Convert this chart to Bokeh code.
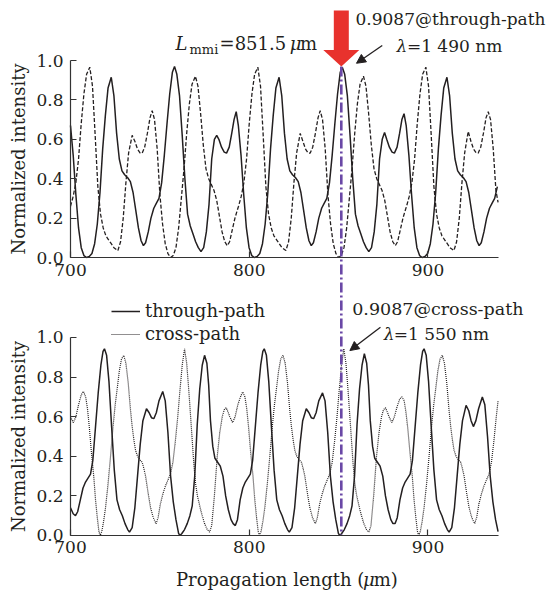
import math
from bokeh.plotting import figure
from bokeh.models import (Range1d, LinearAxis, FixedTicker, PrintfTickFormatter, Arrow,
                          NormalHead, Legend, LegendItem)
from bokeh.core.properties import value
from bokeh.embed import file_html
from bokeh.resources import INLINE

FONT = "DejaVu Serif"
INK = "#231f20"
RED = "#e8322d"
PURPLE = "#6a48a6"

X_TICKS = [700, 800, 900]
Y_TICKS = [0.0, 0.2, 0.4, 0.6, 0.8, 1.0]
X_MIN, X_MAX = 700, 939.3
L_MMI = 851.5
PEAK_TOP = 0.97

# ---------------- top panel (lambda = 1490 nm) ----------------
TOP_THROUGH_X = [
    700, 701.5, 703, 704.5, 706, 707.5, 709, 710.5, 712, 713.5, 715, 716.5, 718, 719.5, 721, 722.8,
    724.3, 725.8, 727.3, 728.8, 730.3, 732, 733.5, 735, 736.5, 738, 739.5, 740.8, 742, 743.5, 745,
    746.6, 748, 749.5, 751, 752.5, 754, 755.5, 757, 758.2, 759.5, 761, 762.5, 764, 765.5, 767, 768.5,
    770, 771.5, 773, 774.5, 776, 777.5, 779, 780.5, 781.8, 783, 784.5, 786, 787.3, 788.8, 790.2,
    791.5, 792.7,
    793.9, 795.4, 796.9, 798.4, 799.9, 801.4, 802.9, 804.4, 805.9, 807.4, 808.9, 810.4, 811.9, 813.4,
    814.9, 816.7, 818.2, 819.7, 821.2, 822.7, 824.2, 825.9, 827.4, 828.9, 830.4, 831.9, 833.4, 834.7,
    835.9, 837.4, 838.9, 840.5, 841.9, 843.4, 844.9, 846.4, 847.9, 849.4, 850.9, 852.1, 853.4, 854.9,
    856.4, 857.9, 859.4, 860.9, 862.4, 863.9, 865.4, 866.9, 868.4, 869.9, 871.4, 872.9, 874.4, 875.7,
    876.9, 878.4, 879.9, 881.2, 882.7, 884.1, 885.4, 886.6,
    887.8, 889.3, 890.8, 892.3, 893.8, 895.3, 896.8, 898.3, 899.8, 901.3, 902.8, 904.3, 905.8, 907.3,
    908.8, 910.6, 912.1, 913.6, 915.1, 916.6, 918.1, 919.8, 921.3, 922.8, 924.3, 925.8, 927.3, 928.6,
    929.8, 931.3, 932.8, 934.4, 935.8, 937.3, 938.8]
TOP_THROUGH_Y = [
    0.67, 0.52, 0.32, 0.15, 0.05, 0.01, 0.0, 0.005, 0.02, 0.07, 0.17, 0.33, 0.55, 0.72, 0.86, 0.915,
    0.82, 0.63, 0.5, 0.44, 0.42, 0.405, 0.385, 0.33, 0.24, 0.15, 0.085, 0.06, 0.075, 0.13, 0.2,
    0.25, 0.275, 0.3, 0.38, 0.52, 0.68, 0.83, 0.94, 0.97, 0.93, 0.82, 0.62, 0.4, 0.22, 0.16, 0.12,
    0.08, 0.05, 0.03, 0.05, 0.13, 0.27, 0.5, 0.6, 0.62, 0.6, 0.56, 0.535, 0.53, 0.56, 0.63,
    0.7, 0.74,
    0.67, 0.52, 0.32, 0.15, 0.05, 0.01, 0.0, 0.005, 0.02, 0.07, 0.17, 0.33, 0.55, 0.72,
    0.86, 0.915, 0.82, 0.63, 0.5, 0.44, 0.42, 0.405, 0.385, 0.33, 0.24, 0.15, 0.085, 0.06,
    0.075, 0.13, 0.2, 0.25, 0.275, 0.3, 0.38, 0.52, 0.68, 0.83, 0.94, 0.965, 0.93, 0.82,
    0.62, 0.4, 0.22, 0.16, 0.12, 0.08, 0.05, 0.03, 0.05, 0.13, 0.27, 0.5, 0.6, 0.635,
    0.6, 0.56, 0.535, 0.53, 0.56, 0.63, 0.7, 0.73,
    0.67, 0.52, 0.32, 0.15, 0.05, 0.01, 0.0, 0.005, 0.02, 0.07, 0.17, 0.33, 0.55, 0.72,
    0.86, 0.915, 0.82, 0.63, 0.5, 0.44, 0.42, 0.405, 0.385, 0.33, 0.24, 0.15, 0.085, 0.06,
    0.075, 0.13, 0.2, 0.25, 0.275, 0.3, 0.36]

TOP_CROSS_X = [
    700, 701.5, 703, 704.5, 706, 707.5, 709, 710.8, 712.3, 713.8, 715.3, 716.8, 718.3, 719.8, 721.3,
    722.8, 724.3, 726.5, 728, 729.5, 731, 732.5, 734.5, 736, 737.5, 739, 740.1, 741.5, 743, 744.5,
    745.7, 747, 748.5, 750, 751.5, 753, 754.5, 756, 757.5, 759, 760.5, 762, 763.5, 765, 766.5, 768,
    769.9, 771.3, 772.8, 774.3, 775.8, 777.3, 778.8, 780.3, 781.8, 783.3, 784.8, 786.3, 787.7, 789,
    790.5, 792, 793.3,
    794, 795.5, 797, 798.5, 800, 801.5, 803, 804.8, 806.3, 807.8, 809.3, 810.8, 812.3, 813.8, 815.3,
    816.8, 818.3, 820.5, 822, 823.5, 825, 826.5, 828.5, 830, 831.5, 833, 834.1, 835.5, 837, 838.5,
    839.7, 841, 842.5, 844, 845.5, 847, 848.5, 850, 851.5, 853, 854.5, 856, 857.5, 859, 860.5, 862,
    863.9, 865.3, 866.8, 868.3, 869.8, 871.3, 872.8, 874.3, 875.8, 877.3, 878.8, 880.3, 881.7, 883,
    884.5, 886, 887.3,
    888, 889.5, 891, 892.5, 894, 895.5, 897, 898.8, 900.3, 901.8, 903.3, 904.8, 906.3, 907.8, 909.3,
    910.8, 912.3, 914.5, 916, 917.5, 919, 920.5, 922.5, 924, 925.5, 927, 928.1, 929.5, 931, 932.5,
    933.7, 935, 936.5, 938, 939.2]
TOP_CROSS_Y = [
    0.26, 0.31, 0.38, 0.5, 0.68, 0.83, 0.93, 0.966, 0.87, 0.62, 0.36, 0.22, 0.15, 0.11, 0.09,
    0.07, 0.05, 0.035, 0.08, 0.2, 0.38, 0.53, 0.62, 0.59, 0.55, 0.53, 0.53, 0.56, 0.63, 0.71,
    0.745, 0.7, 0.55, 0.32, 0.17, 0.07, 0.02, 0.0, 0.01, 0.05, 0.15, 0.3, 0.45, 0.63, 0.78, 0.88,
    0.92, 0.87, 0.73, 0.57, 0.45, 0.4, 0.37, 0.34, 0.29, 0.21, 0.13, 0.08, 0.06, 0.08,
    0.14, 0.2, 0.24,
    0.26, 0.31, 0.38, 0.5, 0.68, 0.83, 0.93, 0.966, 0.87, 0.62, 0.36, 0.22, 0.15, 0.11, 0.09,
    0.07, 0.05, 0.035, 0.08, 0.2, 0.38, 0.53, 0.63, 0.59, 0.55, 0.53, 0.53, 0.56, 0.63, 0.71,
    0.745, 0.7, 0.55, 0.32, 0.17, 0.07, 0.02, 0.0, 0.01, 0.05, 0.15, 0.3, 0.45, 0.63, 0.78, 0.88,
    0.92, 0.87, 0.73, 0.57, 0.45, 0.4, 0.37, 0.34, 0.29, 0.21, 0.13, 0.08, 0.06, 0.08,
    0.14, 0.2, 0.24,
    0.26, 0.31, 0.38, 0.5, 0.68, 0.83, 0.93, 0.966, 0.87, 0.62, 0.36, 0.22, 0.15, 0.11, 0.09,
    0.07, 0.05, 0.035, 0.08, 0.2, 0.38, 0.53, 0.64, 0.59, 0.55, 0.53, 0.53, 0.56, 0.63, 0.71,
    0.74, 0.7, 0.55, 0.34, 0.28]

# ---------------- bottom panel (lambda = 1550 nm) ----------------
BOT_THROUGH_X = [
    700, 701.5,
    702.8, 704, 705.5, 707, 708.4, 709.8, 711.2, 712.5, 714, 715.5, 717, 718.2, 719, 720.2, 721.5,
    723, 724.5, 726, 727.5, 729, 730.5, 732, 733, 734.5, 736, 737.5, 739, 740.5, 742.5, 744, 745.3,
    746.6, 748, 749.5, 751.6, 753, 754.5, 756, 757.5, 759, 760.5, 761.3, 762.3, 763.8, 765.3, 766.8,
    768.1, 769.5, 770.9, 772.3, 773.7, 775, 776.3, 777.3, 778.3, 779.6, 780.8, 782.3, 783.8, 785.3,
    786.8, 788.3, 789.8, 791,
    792.2, 793.4, 794.9, 796.4, 797.8, 799.2, 800.6, 801.9, 803.4, 804.9, 806.4, 807.6, 808.4, 809.6,
    810.9, 812.4, 813.9, 815.4, 816.9, 818.4, 819.9, 821.4, 822.4, 823.9, 825.4, 826.9, 828.4, 829.9,
    831.9, 833.4, 834.7, 836, 837.4, 838.9, 841, 842.4, 843.9, 845.4, 846.9, 848.4, 849.9, 850.7,
    851.7, 853.2, 854.7, 856.2, 857.5, 858.9, 860.3, 861.7, 863.1, 864.4, 865.7, 866.7, 867.7, 869,
    870.2, 871.7, 873.2, 874.7, 876.2, 877.7, 879.2, 880.4,
    881.6, 882.8, 884.3, 885.8, 887.2, 888.6, 890, 891.3, 892.8, 894.3, 895.8, 897, 897.8, 899,
    900.3, 901.8, 903.3, 904.8, 906.3, 907.8, 909.3, 910.8, 911.8, 913.3, 914.8, 916.3, 917.8, 919.3,
    921.3, 922.8, 924.1, 925.4, 926.8, 928.3, 930.4, 931.8, 933.3, 934.8, 936.3, 937.8, 939.2]
BOT_THROUGH_Y = [
    0.14, 0.11,
    0.1, 0.12, 0.18, 0.24, 0.27, 0.29, 0.31, 0.38, 0.55, 0.72, 0.86, 0.93, 0.943, 0.91, 0.78,
    0.55, 0.33, 0.18, 0.13, 0.1, 0.06, 0.03, 0.017, 0.04, 0.14, 0.3, 0.46, 0.58, 0.64, 0.62, 0.595,
    0.59, 0.62, 0.68, 0.727, 0.68, 0.52, 0.3, 0.17, 0.08, 0.01, 0.0, 0.01, 0.03, 0.06, 0.1,
    0.15, 0.3, 0.56, 0.74, 0.86, 0.91, 0.87, 0.76, 0.58, 0.45, 0.39, 0.37, 0.35, 0.3,
    0.2, 0.13, 0.08, 0.06,
    0.05, 0.08, 0.18, 0.24, 0.27, 0.29, 0.31, 0.38, 0.55, 0.72, 0.86, 0.93, 0.943, 0.91,
    0.78, 0.55, 0.33, 0.18, 0.13, 0.1, 0.06, 0.03, 0.017, 0.04, 0.14, 0.3, 0.46, 0.58,
    0.64, 0.62, 0.595, 0.59, 0.62, 0.68, 0.72, 0.68, 0.52, 0.3, 0.17, 0.08, 0.01, 0.0,
    0.01, 0.03, 0.06, 0.1, 0.15, 0.3, 0.56, 0.74, 0.86, 0.918, 0.87, 0.76, 0.58, 0.45,
    0.39, 0.37, 0.35, 0.3, 0.2, 0.13, 0.08, 0.06,
    0.06, 0.09, 0.18, 0.24, 0.27, 0.29, 0.31, 0.38, 0.55, 0.72, 0.86, 0.93, 0.943, 0.91,
    0.78, 0.55, 0.33, 0.18, 0.13, 0.1, 0.06, 0.03, 0.017, 0.04, 0.14, 0.3, 0.46, 0.58,
    0.657, 0.63, 0.58, 0.55, 0.58, 0.64, 0.7, 0.66, 0.5, 0.3, 0.17, 0.08, 0.02]

BOT_CROSS_X = [
    700, 701.6, 703, 704.5, 706, 707.2, 708.5, 709.5, 710.5, 711.7, 713, 714, 715, 715.9, 716.6,
    717.5, 718.5, 719.6, 721, 722.4, 723.8, 725, 726.1, 727.3, 728.5, 729.8, 731, 732.3, 733.5,
    734.5, 735.5, 736.4, 737.5, 739, 740.1, 741, 742, 743.5, 744.8, 746.3, 747.9, 749, 750.3,
    751.7, 753.1, 754.5, 755.9, 757.3, 758.7, 760, 761.2, 762.5, 763.8, 765, 766.2, 767.2, 768.1,
    769, 770, 771, 771.8, 772.8, 773.7, 775, 776.5, 777.8, 779, 780.5, 782.1, 783.5, 784.9, 786,
    787.1, 788.3,
    789.1, 790.7, 792.1, 793.6, 795.1, 796.3, 797.6, 798.6, 799.6, 800.8, 802.1, 803.1, 804.1, 805,
    805.7, 806.6, 807.6, 808.7, 810.1, 811.5, 812.9, 814.1, 815.2, 816.4, 817.6, 818.9, 820.1,
    821.4, 822.6, 823.6, 824.6, 825.5, 826.6, 828.1, 829.2, 830.1, 831.1, 832.6, 833.9, 835.4, 837,
    838.1, 839.4, 840.8, 842.2, 843.6, 845, 846.4, 847.8, 849.1, 850.3, 851.6, 852.9, 854.1, 855.3,
    856.3, 857.2, 858.1, 859.1, 860.1, 860.9, 861.9, 862.8, 864.1, 865.6, 866.9, 868.1, 869.6,
    871.2, 872.6, 874, 875.1, 876.2, 877.4,
    878.2, 879.8, 881.2, 882.7, 884.2, 885.4, 886.7, 887.7, 888.7, 889.9, 891.2, 892.2, 893.2,
    894.1, 894.8, 895.7, 896.7, 897.8, 899.2, 900.6, 902, 903.2, 904.3, 905.5, 906.7, 908, 909.2,
    910.5, 911.7, 912.7, 913.7, 914.6, 915.7, 917.2, 918.3, 919.2, 920.2, 921.7, 923, 924.5,
    926.1, 927.2, 928.5, 929.9, 931.3, 932.7, 934.1, 935.5, 936.9, 938.2, 939.2]
BOT_CROSS_Y = [
    0.6, 0.57, 0.6, 0.66, 0.71, 0.728, 0.7, 0.64, 0.55, 0.42, 0.3, 0.18, 0.09, 0.02, 0.0,
    0.02, 0.07, 0.14, 0.26, 0.4, 0.55, 0.66, 0.74, 0.83, 0.89, 0.91, 0.87, 0.77, 0.64,
    0.55, 0.48, 0.43, 0.4, 0.38, 0.37, 0.34, 0.3, 0.21, 0.14, 0.09, 0.06, 0.09, 0.16,
    0.21, 0.25, 0.28, 0.31, 0.37, 0.48, 0.6, 0.73, 0.86, 0.943, 0.87, 0.73, 0.6, 0.48,
    0.36, 0.26, 0.2, 0.17, 0.13, 0.1, 0.06, 0.03, 0.017, 0.05, 0.2, 0.4, 0.52, 0.6, 0.635,
    0.645, 0.62,
    0.6, 0.57, 0.6, 0.66, 0.7, 0.725, 0.7, 0.64, 0.55, 0.42, 0.3, 0.18, 0.09, 0.02,
    0.0, 0.02, 0.07, 0.14, 0.26, 0.4, 0.55, 0.66, 0.74, 0.83, 0.89, 0.91, 0.87,
    0.77, 0.64, 0.55, 0.48, 0.43, 0.4, 0.38, 0.37, 0.34, 0.3, 0.21, 0.14, 0.09, 0.06,
    0.09, 0.16, 0.21, 0.25, 0.28, 0.31, 0.37, 0.48, 0.6, 0.73, 0.86, 0.943, 0.87, 0.73,
    0.6, 0.48, 0.36, 0.26, 0.2, 0.17, 0.13, 0.1, 0.06, 0.03, 0.017, 0.05, 0.2,
    0.4, 0.52, 0.6, 0.635, 0.645, 0.62,
    0.6, 0.57, 0.6, 0.65, 0.69, 0.7, 0.68, 0.62, 0.54, 0.42, 0.3, 0.18, 0.09,
    0.02, 0.0, 0.02, 0.07, 0.14, 0.26, 0.4, 0.55, 0.66, 0.74, 0.83, 0.89, 0.91, 0.87,
    0.77, 0.64, 0.55, 0.48, 0.43, 0.4, 0.38, 0.37, 0.34, 0.3, 0.21, 0.14, 0.09,
    0.06, 0.09, 0.16, 0.21, 0.25, 0.28, 0.31, 0.37, 0.48, 0.6, 0.68]

# ---------------- figure: one full-canvas frame, two stacked y scales ----------------
W, H = 546, 592
X_RANGE = (660.839, 966.294)
TOP_RANGE = (-1.700508, 1.304569)   # top panel: 0..1 occupies the upper part of the frame
BOT_RANGE = (-0.287879, 2.702020)   # bottom panel: 0..1 occupies the lower part of the frame

p = figure(width=W, height=H, output_backend="svg", toolbar_location=None,
           x_range=Range1d(*X_RANGE), y_range=Range1d(*BOT_RANGE),
           x_axis_type=None, y_axis_type=None,
           min_border_left=0, min_border_right=0, min_border_top=0, min_border_bottom=0)
p.extra_y_ranges = {"top": Range1d(*TOP_RANGE)}
p.outline_line_color = None
p.background_fill_color = "white"
p.border_fill_color = "white"


def style_axis(ax, horizontal):
    ax.axis_line_color = "#333333"
    ax.axis_line_width = 1.2
    ax.major_tick_line_color = "#333333"
    ax.major_tick_line_width = 1.2
    ax.major_tick_in = 6
    ax.major_tick_out = 0
    ax.minor_tick_line_color = None
    ax.major_label_text_font = FONT
    ax.major_label_text_font_size = "17px"
    ax.major_label_text_color = INK
    ax.major_label_standoff = 6 if horizontal else 7


x_bot = LinearAxis(ticker=FixedTicker(ticks=X_TICKS), bounds=(X_MIN, X_MAX), fixed_location=0)
x_top = LinearAxis(ticker=FixedTicker(ticks=X_TICKS), bounds=(X_MIN, X_MAX),
                   y_range_name="top", fixed_location=0)
y_bot = LinearAxis(ticker=FixedTicker(ticks=Y_TICKS), bounds=(0, 1),
                   formatter=PrintfTickFormatter(format="%.1f"), fixed_location=X_MIN)
y_top = LinearAxis(ticker=FixedTicker(ticks=Y_TICKS), bounds=(0, 1),
                   formatter=PrintfTickFormatter(format="%.1f"), y_range_name="top",
                   fixed_location=X_MIN)
for ax, hz in ((x_bot, True), (x_top, True), (y_bot, False), (y_top, False)):
    style_axis(ax, hz)
p.add_layout(x_bot, "below")
p.add_layout(x_top, "below")
p.add_layout(y_bot, "left")
p.add_layout(y_top, "left")

# curves
p.line(TOP_CROSS_X, TOP_CROSS_Y, y_range_name="top", line_color=INK, line_width=1.3,
       line_dash="4 2")
p.line(TOP_THROUGH_X, TOP_THROUGH_Y, y_range_name="top", line_color=INK, line_width=1.5)
r_bc = p.line(BOT_CROSS_X, BOT_CROSS_Y, line_color=INK, line_width=1.2, line_dash="1 1")
r_bt = p.line(BOT_THROUGH_X, BOT_THROUGH_Y, line_color=INK, line_width=1.5)

# purple dash-dot marker at L_mmi across both panels (down to bottom panel's zero)
BOT_ZERO_IN_TOP = TOP_RANGE[0] + (0 - BOT_RANGE[0]) * (TOP_RANGE[1] - TOP_RANGE[0]) / (BOT_RANGE[1] - BOT_RANGE[0])
p.segment(x0=[L_MMI], y0=[PEAK_TOP], x1=[L_MMI], y1=[BOT_ZERO_IN_TOP], y_range_name="top",
          line_color=PURPLE, line_width=2.6, line_dash="10 3 2 3")

# red block arrow pointing at the peak (sizes in px converted to data units)
px_x = W / (X_RANGE[1] - X_RANGE[0])
px_y = H / (TOP_RANGE[1] - TOP_RANGE[0])
sh = 7.5 / px_x
hh = 18 / px_x
hl = 16.5 / px_y
top_y = PEAK_TOP + 56 / px_y
p.patch([L_MMI - sh, L_MMI + sh, L_MMI + sh, L_MMI + hh, L_MMI, L_MMI - hh, L_MMI - sh],
        [top_y, top_y, PEAK_TOP + hl, PEAK_TOP + hl, PEAK_TOP, PEAK_TOP + hl, PEAK_TOP + hl],
        y_range_name="top", fill_color=RED, line_color=None)


def txt(x, y, s, size="18px", style="normal", rng="default", align="left", angle=0.0):
    p.text(x=[x], y=[y], text=[s], text_font=value(FONT), text_font_size=size,
           text_font_style=style, text_color=INK, text_align=align, angle=angle,
           text_baseline="middle", y_range_name=rng)


# axis titles
txt(671.0, 0.5, "Normalized intensity", rng="top", align="center", angle=math.pi / 2)
txt(671.0, 0.5, "Normalized intensity", align="center", angle=math.pi / 2)
txt(759.0, -0.222, "Propagation length (")
txt(863.6, -0.222, "μ", style="italic")
txt(869.6, -0.222, "m)")

# top annotations
txt(758.7, 1.086, "L", style="italic", rng="top")
txt(766.6, 1.058, "mmi", size="13px", rng="top")
txt(783.4, 1.086, "=851.5", rng="top")
txt(822.6, 1.086, "μ", style="italic", rng="top")
txt(828.4, 1.086, "m", rng="top")
txt(965.7, 1.213, "0.9087@through-path", size="17px", rng="top", align="right")
txt(882.4, 1.076, "λ", size="17px", style="italic", rng="top")
txt(888.2, 1.076, "=1 490 nm", size="17px", rng="top")
p.add_layout(Arrow(end=NormalHead(size=9, fill_color=INK, line_color=INK, line_width=1),
                   x_start=874.4, y_start=1.076, x_end=860.0, y_end=0.986,
                   line_color=INK, line_width=1.3, y_range_name="top"))

# bottom annotations
txt(857.6, 1.145, "0.9087@cross-path", size="17.5px")
txt(875.3, 1.019, "λ", size="17px", style="italic")
txt(880.8, 1.019, "=1 550 nm", size="17px")
p.add_layout(Arrow(end=NormalHead(size=9, fill_color=INK, line_color=INK, line_width=1),
                   x_start=873.4, y_start=1.052, x_end=856.3, y_end=0.934,
                   line_color=INK, line_width=1.3))

legend = Legend(items=[LegendItem(label="through-path", renderers=[r_bt]),
                       LegendItem(label="cross-path", renderers=[r_bc])],
                location=(111, 248), orientation="vertical", glyph_width=29, glyph_height=20,
                label_height=20, label_standoff=5, spacing=2, padding=0, margin=0,
                border_line_color=None, background_fill_alpha=0,
                label_text_font=FONT, label_text_font_size="18px", label_text_color=INK)
p.add_layout(legend)

open("out.html", "w").write(file_html(p, INLINE))
